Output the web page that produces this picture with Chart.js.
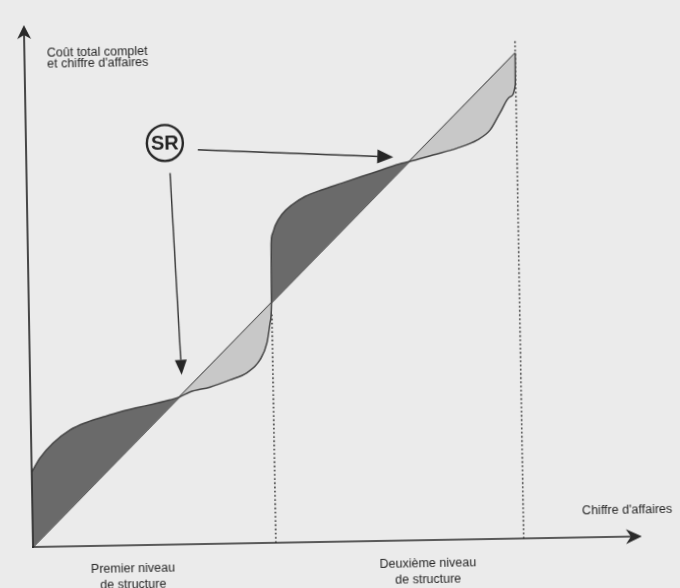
<!DOCTYPE html>
<html lang="fr">
<head>
<meta charset="utf-8">
<title>Seuils de rentabilité</title>
<script src="https://cdn.jsdelivr.net/npm/chart.js@4/dist/chart.umd.min.js"></script>
<style>
  html, body { margin: 0; padding: 0; width: 680px; height: 588px; overflow: hidden; background: #ebebeb; }
  #wrap { position: absolute; left: 0; top: 0; width: 680px; height: 620px;
          transform-origin: 33px 547px; transform: rotate(-1deg); }
  canvas { display: block; }
</style>
</head>
<body>
<div id="wrap"><canvas id="c" width="680" height="620"></canvas></div>
<script>
// ---------- DATA (arbitrary units: revenue line ends at 100/100) ----------
const revenueX = [0, 100];
const revenueY = [0, 100];

const costX = [0, 1.74, 4.44, 7.95, 11.45, 14.7, 18.2, 21.7, 25.0, 28.5, 30.5,
               32.55, 36.65, 40.75, 44.2, 46.9, 48.4, 49.1, 49.45,
               49.6, 49.9, 50.5, 51.9, 53.95, 56.7, 60.1, 64.2, 68.3, 72.4, 76.5, 78.0,
               82.9, 87.85, 91.95, 94.6, 96.7, 98.8, 99.9, 100];
const costY = [15.4, 18.3, 21.3, 23.96, 25.5, 26.5, 27.5, 28.3, 29.0, 29.8, 30.4,
               31.35, 32.3, 33.7, 35.1, 37.7, 41.2, 45.3, 49.3,
               61.5, 63.6, 65.3, 67.6, 69.5, 71.2, 72.5, 73.8, 75.1, 76.4, 77.7, 78.0,
               79.3, 80.6, 82.2, 84.2, 87.7, 91.0, 93.4, 100];

const structureLevelX = [49.5, 100];      // dotted verticals
const structureLevelTop = [47, 102.7];
const structureLabels = [["Premier niveau", "de structure"], ["Deuxième niveau", "de structure"]];
const yAxisTitle = ["Coût total complet", "et chiffre d'affaires"];
const xAxisTitle = "Chiffre d'affaires";
const markerText = "SR";

// ---------- LAYOUT / STYLE ----------
const X_MAX = 124.1, Y_MAX = 107.5;
const INK = '#262626';
const LINE = '#444444';
const DARK_FILL = '#6a6a6a';
const LIGHT_FILL = '#c8c8c8';
const FONT = '"Liberation Sans", Arial, sans-serif';
const place = {
  yTitle: { x: 4.59, y: 100.9, lh: 11.2 },
  xTitle: { x: 112.0, y: 4.76 },
  levelLabelX: [20.3, 80.4], levelDy: 26.6, levelLh: 16.4,
  sr: { x: 28.3, y: 82.7, r: 18 },
  arrowH: { x1: 35.0, y1: 81.2, x2: 74.8, y2: 79.0 },
  arrowV: { x1: 29.25, y1: 76.5, x2: 30.9, y2: 34.9 }
};

const toPts = (xs, ys) => xs.map((v, i) => ({ x: v, y: ys[i] }));

function arrow(ctx, x1, y1, x2, y2, len, half) {
  const a = Math.atan2(y2 - y1, x2 - x1);
  const bx = x2 - Math.cos(a) * len, by = y2 - Math.sin(a) * len;
  ctx.beginPath(); ctx.moveTo(x1, y1); ctx.lineTo(bx, by); ctx.stroke();
  ctx.beginPath();
  ctx.moveTo(x2, y2);
  ctx.lineTo(bx + Math.sin(a) * half, by - Math.cos(a) * half);
  ctx.lineTo(bx - Math.sin(a) * half, by + Math.cos(a) * half);
  ctx.closePath(); ctx.fill();
}
function stealth(ctx, tx, ty, dx, dy, len, half, notch) {
  const bx = tx - dx * len, by = ty - dy * len;
  ctx.beginPath();
  ctx.moveTo(tx, ty);
  ctx.lineTo(bx - dy * half, by + dx * half);
  ctx.lineTo(tx - dx * notch, ty - dy * notch);
  ctx.lineTo(bx + dy * half, by - dx * half);
  ctx.closePath(); ctx.fill();
}

const overlay = {
  id: 'overlay',
  afterDatasetsDraw(chart) {
    const { ctx, scales: { x, y } } = chart;
    const px = v => x.getPixelForValue(v), py = v => y.getPixelForValue(v);
    const ox = px(0), oy = py(0), top = py(Y_MAX), right = px(X_MAX);
    ctx.save();
    ctx.strokeStyle = '#2a2a2a'; ctx.fillStyle = '#2a2a2a';
    ctx.lineWidth = 1.7;
    ctx.beginPath(); ctx.moveTo(ox, oy + 1); ctx.lineTo(ox, top + 9); ctx.stroke();
    ctx.beginPath(); ctx.moveTo(ox - 1, oy); ctx.lineTo(right - 9, oy); ctx.stroke();
    stealth(ctx, ox, top, 0, -1, 14, 7, 10);
    stealth(ctx, right, oy, 1, 0, 16, 7.5, 11);

    // annotation arrows
    ctx.lineWidth = 1.4; ctx.strokeStyle = '#353535'; ctx.fillStyle = '#262626';
    const h = place.arrowH, v = place.arrowV;
    arrow(ctx, px(h.x1), py(h.y1), px(h.x2), py(h.y2), 16, 7);
    arrow(ctx, px(v.x1), py(v.y1), px(v.x2), py(v.y2), 15, 6);

    // SR marker
    const s = place.sr;
    ctx.lineWidth = 2.4; ctx.strokeStyle = '#262626';
    ctx.beginPath(); ctx.arc(px(s.x), py(s.y), s.r, 0, Math.PI * 2); ctx.stroke();
    ctx.fillStyle = '#262626';
    ctx.font = 'bold 20px ' + FONT;
    ctx.textAlign = 'center'; ctx.textBaseline = 'middle';
    ctx.fillText(markerText, px(s.x), py(s.y) + 1);

    // texts
    ctx.fillStyle = INK;
    ctx.font = '12.5px ' + FONT;
    ctx.textBaseline = 'alphabetic';
    ctx.textAlign = 'left';
    yAxisTitle.forEach((t, i) => ctx.fillText(t, px(place.yTitle.x), py(place.yTitle.y) + i * place.yTitle.lh));
    ctx.fillText(xAxisTitle, px(place.xTitle.x), py(place.xTitle.y));
    ctx.textAlign = 'center';
    structureLabels.forEach((lines, k) => {
      lines.forEach((t, i) => ctx.fillText(t, px(place.levelLabelX[k]), oy + place.levelDy + i * place.levelLh));
    });
    ctx.restore();
  }
};

new Chart(document.getElementById('c'), {
  type: 'line',
  data: {
    datasets: [
      { label: 'Chiffre d\'affaires', data: toPts(revenueX, revenueY),
        borderColor: LINE, borderWidth: 1.5, pointRadius: 0, fill: false, tension: 0, order: 2 },
      { label: 'Coût total complet', data: toPts(costX, costY),
        borderColor: LINE, borderWidth: 1.5, pointRadius: 0, cubicInterpolationMode: 'monotone',
        fill: { target: 0, above: DARK_FILL, below: LIGHT_FILL }, order: 1 },
      { label: 'niveau 1', data: [{ x: structureLevelX[0], y: 0 }, { x: structureLevelX[0], y: structureLevelTop[0] }],
        borderColor: '#353535', borderWidth: 1.6, borderDash: [1.6, 2.6], pointRadius: 0, fill: false, order: 3 },
      { label: 'niveau 2', data: [{ x: structureLevelX[1], y: 0 }, { x: structureLevelX[1], y: structureLevelTop[1] }],
        borderColor: '#353535', borderWidth: 1.6, borderDash: [1.6, 2.6], pointRadius: 0, fill: false, order: 3 }
    ]
  },
  options: {
    responsive: false, animation: false, devicePixelRatio: 1,
    layout: { padding: { left: 33, right: 38, top: 25, bottom: 73 } },
    scales: {
      x: { type: 'linear', min: 0, max: X_MAX, display: false },
      y: { type: 'linear', min: 0, max: Y_MAX, display: false }
    },
    plugins: { legend: { display: false }, tooltip: { enabled: false }, filler: { propagate: false } },
    events: []
  },
  plugins: [overlay]
});
</script>
</body>
</html>
